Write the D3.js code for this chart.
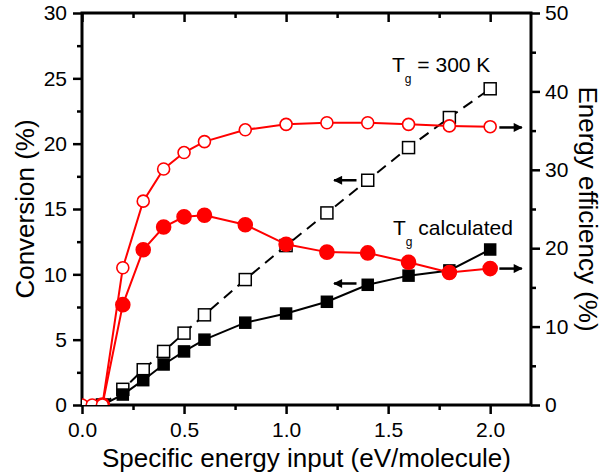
<!DOCTYPE html>
<html>
<head>
<meta charset="utf-8">
<script src="https://cdn.jsdelivr.net/npm/d3@7"></script>
<style>
  html, body { margin: 0; padding: 0; background: #fff; }
  svg { display: block; font-family: Arial, "Liberation Sans", sans-serif; }
</style>
</head>
<body>
<div id="chart"></div>
<script>
(function () {
    'use strict';

    // ── data ─────────────────────────────────────────────────────────────
    const energyIn     = [0.1, 0.2, 0.3, 0.4, 0.5, 0.6, 0.8, 1.0, 1.2, 1.4, 1.6, 1.8, 2.0];
    const conv300K     = [0, 1.2, 2.7, 4.1, 5.5, 6.9, 9.6, 12.2, 14.7, 17.2, 19.7, 22.0, 24.2];
    const convCalc     = [0, 0.8, 1.9, 3.1, 4.1, 5.0, 6.3, 7.0, 7.9, 9.2, 9.9, 10.3, 11.9];

    const energyEff    = [0, 0.05, 0.1, 0.2, 0.3, 0.4, 0.5, 0.6, 0.8, 1.0, 1.2, 1.4, 1.6, 1.8, 2.0];
    const eff300K      = [0, 0, 0, 17.5, 26.0, 30.1, 32.2, 33.6, 35.1, 35.8, 36.0, 36.0, 35.8, 35.6, 35.5];
    const effCalcX     = [0.1, 0.2, 0.3, 0.4, 0.5, 0.6, 0.8, 1.0, 1.2, 1.4, 1.6, 1.8, 2.0];
    const effCalc      = [0, 12.8, 19.8, 22.7, 24.0, 24.2, 23.0, 20.5, 19.5, 19.4, 18.2, 16.9, 17.4];

    const xTicks       = [0, 0.5, 1.0, 1.5, 2.0];
    const yLeftTicks   = [0, 5, 10, 15, 20, 25, 30];
    const yRightTicks  = [0, 10, 20, 30, 40, 50];

    // ── geometry ─────────────────────────────────────────────────────────
    const W = 602, H = 476;
    const L = 82, R = 531, T = 13, B = 405;

    const x  = d3.scaleLinear().domain([0, 2.2]).range([L, R]);
    const yl = d3.scaleLinear().domain([0, 30]).range([B, T]);
    const yr = d3.scaleLinear().domain([0, 50]).range([B, T]);

    const svg = d3.select('#chart').append('svg')
        .attr('width', W).attr('height', H);

    const defs = svg.append('defs');
    defs.append('clipPath').attr('id', 'plot')
        .append('rect').attr('x', L).attr('y', T).attr('width', R - L).attr('height', B - T);

    defs.append('marker')
        .attr('id', 'ah').attr('viewBox', '0 0 10 10')
        .attr('refX', 9).attr('refY', 5)
        .attr('markerWidth', 11).attr('markerHeight', 9)
        .attr('markerUnits', 'userSpaceOnUse')
        .attr('orient', 'auto')
        .append('path').attr('d', 'M0,0 L10,5 L0,10 Z').attr('fill', '#000');

    // ── axes ─────────────────────────────────────────────────────────────
    const minorX  = [0.25, 0.75, 1.25, 1.75];
    const minorYL = d3.range(2.5, 30, 5);
    const minorYR = d3.range(5, 50, 10);

    function styleAxis(g) {
        g.select('.domain').remove();
        g.selectAll('line').attr('stroke', '#000').attr('stroke-width', 2.5);
        g.selectAll('text').attr('fill', '#000').style('font-size', '21px')
            .style('font-family', 'Arial, "Liberation Sans", sans-serif');
    }

    // bottom
    svg.append('g').attr('transform', `translate(0,${B})`)
        .call(d3.axisBottom(x).tickValues(xTicks).tickFormat(d3.format('.1f')).tickSize(9).tickPadding(8))
        .call(styleAxis);
    svg.append('g').attr('transform', `translate(0,${B})`)
        .call(d3.axisBottom(x).tickValues(minorX).tickFormat('').tickSize(5))
        .call(styleAxis);
    // top (ticks inward)
    svg.append('g').attr('transform', `translate(0,${T})`)
        .call(d3.axisTop(x).tickValues(xTicks).tickFormat('').tickSize(-9))
        .call(styleAxis);
    svg.append('g').attr('transform', `translate(0,${T})`)
        .call(d3.axisTop(x).tickValues(minorX).tickFormat('').tickSize(-5))
        .call(styleAxis);
    // left
    svg.append('g').attr('transform', `translate(${L},0)`)
        .call(d3.axisLeft(yl).tickValues(yLeftTicks).tickSize(9).tickPadding(6))
        .call(styleAxis);
    svg.append('g').attr('transform', `translate(${L},0)`)
        .call(d3.axisLeft(yl).tickValues(minorYL).tickFormat('').tickSize(5))
        .call(styleAxis);
    // right
    svg.append('g').attr('transform', `translate(${R},0)`)
        .call(d3.axisRight(yr).tickValues(yRightTicks).tickSize(9).tickPadding(5))
        .call(styleAxis);
    svg.append('g').attr('transform', `translate(${R},0)`)
        .call(d3.axisRight(yr).tickValues(minorYR).tickFormat('').tickSize(5))
        .call(styleAxis);

    // frame
    svg.append('rect')
        .attr('x', L).attr('y', T).attr('width', R - L).attr('height', B - T)
        .attr('fill', 'none').attr('stroke', '#000').attr('stroke-width', 3);

    // ── axis titles ──────────────────────────────────────────────────────
    svg.append('text')
        .attr('transform', `translate(34,${(T + B) / 2}) rotate(-90)`)
        .attr('text-anchor', 'middle')
        .style('font-size', '26px')
        .text('Conversion (%)');
    svg.append('text')
        .attr('transform', `translate(579,${(T + B) / 2}) rotate(90)`)
        .attr('text-anchor', 'middle')
        .style('font-size', '26px')
        .text('Energy efficiency (%)');
    svg.append('text')
        .attr('x', (L + R) / 2).attr('y', 467)
        .attr('text-anchor', 'middle')
        .style('font-size', '26px')
        .text('Specific energy input (eV/molecule)');

    // ── series ───────────────────────────────────────────────────────────
    const plot = svg.append('g').attr('clip-path', 'url(#plot)');

    function series(xs, ys, yScale, opt) {
        const pts = xs.map((d, i) => [x(d), yScale(ys[i])]);
        plot.append('path')
            .attr('d', d3.line()(pts))
            .attr('fill', 'none')
            .attr('stroke', opt.color)
            .attr('stroke-width', 2)
            .attr('stroke-dasharray', opt.dash || null);
        const m = plot.append('g').selectAll('g').data(pts).enter();
        if (opt.shape === 'circle') {
            m.append('circle')
                .attr('cx', d => d[0]).attr('cy', d => d[1])
                .attr('r', opt.filled ? 7 : 6)
                .attr('fill', opt.filled ? opt.color : '#fff')
                .attr('stroke', opt.color).attr('stroke-width', 1.6);
        } else {
            const s = opt.filled ? 11 : 12;
            m.append('rect')
                .attr('x', d => d[0] - s / 2).attr('y', d => d[1] - s / 2)
                .attr('width', s).attr('height', s)
                .attr('fill', opt.filled ? opt.color : '#fff')
                .attr('stroke', opt.color).attr('stroke-width', 1.5);
        }
    }

    series(energyIn, conv300K, yl, { color: '#000', shape: 'square', filled: false, dash: '11,7' });
    series(energyIn, convCalc, yl, { color: '#000', shape: 'square', filled: true });
    series(effCalcX, effCalc, yr, { color: '#ff0000', shape: 'circle', filled: true });
    series(energyEff, eff300K, yr, { color: '#ff0000', shape: 'circle', filled: false });

    // ── arrows ───────────────────────────────────────────────────────────
    function arrow(x1, y1, x2, y2) {
        svg.append('line')
            .attr('x1', x1).attr('y1', y1).attr('x2', x2).attr('y2', y2)
            .attr('stroke', '#000').attr('stroke-width', 2.5)
            .attr('marker-end', 'url(#ah)');
    }
    arrow(x(1.345), yl(17.2), x(1.235), yl(17.2));
    arrow(x(1.345), yl(9.3), x(1.235), yl(9.3));
    arrow(x(2.045), yr(35.4), x(2.155), yr(35.4));
    arrow(x(2.045), yr(17.4), x(2.155), yr(17.4));

    // ── labels ───────────────────────────────────────────────────────────
    function tLabel(px, py, rest) {
        const t = svg.append('text').attr('x', px).attr('y', py).style('font-size', '21px');
        t.append('tspan').text('T');
        t.append('tspan').attr('dy', 11).style('font-size', '12px').text('g');
        t.append('tspan').attr('dy', -11).text(rest);
    }
    tLabel(392, 72, ' = 300 K');
    tLabel(393, 235, ' calculated');
})();
</script>
</body>
</html>
